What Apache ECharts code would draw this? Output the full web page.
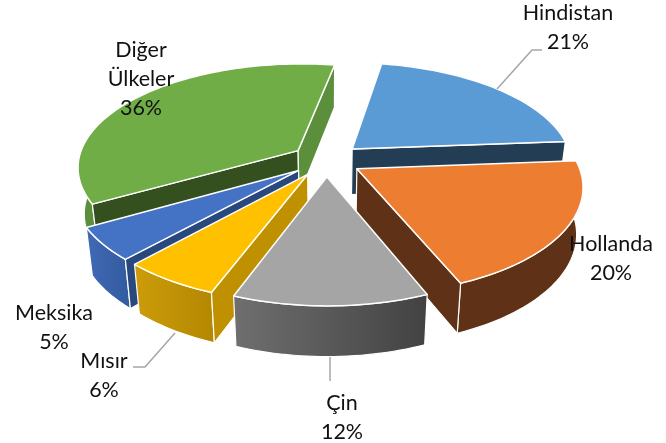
<!DOCTYPE html>
<html><head><meta charset="utf-8">
<style>html,body{margin:0;padding:0;background:#fff}#c{width:666px;height:443px}</style>
<script src="https://cdn.jsdelivr.net/npm/echarts@6/dist/echarts.min.js"></script>
</head><body><div id="c"></div>
<script>
// Data, clockwise from the start angle
const categories = ['Hindistan','Hollanda','Çin','Mısır','Meksika','Diğer Ülkeler'];
const values = [21,20,12,6,5,36];
// Styling
const topColors = ['#5B9BD5','#ED7D31','#A5A5A5','#FFC000','#4472C4','#70AD47'];
const startWallColors = ['#233E54','#5F3116','#808080','#BF9000','#29487E','#35501F'];
const endWallColors = ['#233E54','#5F3116','#808080','#BF9000','#29487E','#5B8F3C'];
const outerFrom = ['#255E91','#5F3116','#6F6F6F','#CC9C0A','#3F6AB6','#5B8F3C'];
const outerTo = ['#255E91','#5F3116','#424242','#B38700','#335A9E','#5B8F3C'];
const paintOrder = [5,0,4,1,3,2];
const labelLines = {0:['Hindistan'],1:['Hollanda'],2:['Çin'],3:['Mısır'],4:['Meksika'],5:['Diğer','Ülkeler']};
const labelAnchors = [[568,13],[611,244],[342,403],[104,361],[54,313],[141,50]];
const leaders = [[[497,89],[532,50],[542,50]],[[330,357],[330,381]],[[175,333],[145,367],[133,367]]];

const CX=326.5, CY=160, RX=220, RY=103, KX=0.15, KY=0.156, EXPLODE=0.16, DEPTH=46;
const START=10;
const total = values.reduce((a,b)=>a+b,0);
const rad = d=>d*Math.PI/180;
const angles=[]; let acc=START;
values.forEach(v=>{const a=acc; acc+=v/total*360; angles.push([a,acc]);});

function project(X,Y,bottom){
  let x=CX+RX*X/(1+KX*Y), y=CY-RY*Y/(1+KY*Y);
  if(bottom){ x=CX+(x-CX)*0.975; y+=DEPTH/(1+0.08*Y); }
  return [x,y];
}
function renderItem(params,api){
  const i=api.value(1), a0=angles[i][0], a1=angles[i][1], mid=(a0+a1)/2;
  const ox=EXPLODE*Math.sin(rad(mid)), oy=EXPLODE*Math.cos(rad(mid));
  const P=(ang,r,b)=>project(ox+r*Math.sin(rad(ang)),oy+r*Math.cos(rad(ang)),b);
  const n=Math.max(4,Math.ceil((a1-a0)/1.5));
  const arc=(b)=>{const p=[];for(let j=0;j<=n;j++)p.push(P(a0+(a1-a0)*j/n,1,b));return p;};
  const aT=P(a0,0,false), aB=P(a0,0,true);
  const topArc=arc(false), botArc=arc(true);
  const line={stroke:'#fff',lineWidth:1.2,lineJoin:'round'};
  const poly=(pts,fill,lw)=>({type:'polygon',shape:{points:pts},style:Object.assign({fill},line,lw?{lineWidth:lw}:{})});
  const grad={type:'linear',x:0,y:0,x2:1,y2:0,colorStops:[{offset:0,color:outerFrom[i]},{offset:1,color:outerTo[i]}]};
  const children=[poly(topArc.concat(botArc.slice().reverse()),grad)];
  // a cut face shows only when its lower edge falls outside the top face
  const r0=P(a0,1,false), r1=P(a1,1,false);
  if(r0[0]<aT[0]) children.push(poly([aT,r0,P(a0,1,true),aB],startWallColors[i]));
  if(r1[0]>aT[0]) children.push(poly([aT,r1,P(a1,1,true),aB],endWallColors[i]));
  children.push(poly([aT].concat(topArc),topColors[i],1.5));
  return {type:'group',children};
}
const graphics=[];
leaders.forEach(pts=>graphics.push({type:'polyline',shape:{points:pts},style:{stroke:'#A6A6A6',lineWidth:1.5,fill:null},z:20}));
categories.forEach((c,i)=>{
  const lines=labelLines[i].concat([values[i]+'%']);
  lines.forEach((t,j)=>graphics.push({type:'text',x:labelAnchors[i][0],y:labelAnchors[i][1]+j*29,z:30,
    style:{text:t,fill:'#111',font:'21.5px Lato, Carlito, sans-serif',textAlign:'center',textVerticalAlign:'middle'}}));
});
const chart=echarts.init(document.getElementById('c'));
chart.setOption({
  animation:false,
  backgroundColor:'#fff',
  series:[{type:'custom',coordinateSystem:'none',renderItem,silent:true,
    data:paintOrder.map(i=>({name:categories[i],value:[values[i],i]}))}],
  graphic:graphics
});
</script></body></html>
